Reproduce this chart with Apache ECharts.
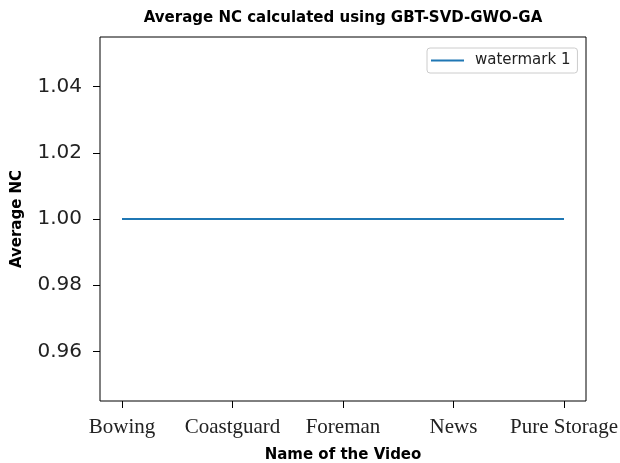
<!DOCTYPE html>
<html>
<head>
<meta charset="utf-8">
<script src="https://cdn.jsdelivr.net/npm/echarts@6/dist/echarts.min.js"></script>
<style>html,body{margin:0;padding:0;background:#fff}#c{width:620px;height:463px}</style>
</head>
<body>
<div id="c"></div>
<script>
const categories = ['Bowing', 'Coastguard', 'Foreman', 'News', 'Pure Storage'];
const watermark1 = [1.0, 1.0, 1.0, 1.0, 1.0];
const yTicks = [0.96, 0.98, 1.00, 1.02, 1.04];
const yMin = 0.945, yMax = 1.055;

const chart = echarts.init(document.getElementById('c'), null, {renderer: 'canvas'});
chart.setOption({
  animation: false,
  backgroundColor: '#fff',
  title: {
    text: 'Average NC calculated using GBT-SVD-GWO-GA',
    left: 343, top: 11, textAlign: 'center', padding: 0,
    textStyle: {fontFamily: 'DejaVu Sans', fontWeight: 'bold', fontSize: 15, color: '#000'}
  },
  legend: {
    data: [{name: 'watermark 1', icon: 'rect'}],
    left: 427, top: 48,
    orient: 'vertical',
    padding: [5, 7, 5, 4],
    itemWidth: 33, itemHeight: 2,
    backgroundColor: 'rgba(255,255,255,0.8)',
    borderColor: '#cccccc', borderWidth: 1, borderRadius: 3,
    textStyle: {fontFamily: 'DejaVu Sans', fontSize: 15, color: '#222', lineHeight: 15, padding: [0, 0, 0, 6]}
  },
  grid: [
    {left: 100, top: 37, width: 486, height: 364, show: true, borderColor: '#000', borderWidth: 1, backgroundColor: 'transparent', containLabel: false, outerBoundsMode: 'none'},
    {left: 122, top: 37, width: 442, height: 364, containLabel: false, outerBoundsMode: 'none'}
  ],
  xAxis: [
    {gridIndex: 0, type: 'value', show: false, min: 0, max: 1},
    {
      gridIndex: 1, type: 'category', data: categories, boundaryGap: false, position: 'bottom',
      axisLine: {show: false},
      axisTick: {show: true, length: 7, inside: false, interval: 0, lineStyle: {color: '#000', width: 1}},
      axisLabel: {interval: 0, margin: 16, fontFamily: 'Liberation Serif', fontSize: 21, color: '#222'},
      splitLine: {show: false},
      name: 'Name of the Video', nameLocation: 'middle', nameGap: 47,
      nameTextStyle: {fontFamily: 'DejaVu Sans', fontWeight: 'bold', fontSize: 15, color: '#000'}
    }
  ],
  yAxis: [
    {
      gridIndex: 0, type: 'value', min: yMin, max: yMax,
      axisLine: {show: false},
      axisTick: {show: true, length: 7, customValues: yTicks, lineStyle: {color: '#000', width: 1}},
      axisLabel: {customValues: yTicks, margin: 18, fontFamily: 'DejaVu Sans', fontSize: 20, color: '#222',
        formatter: v => v.toFixed(2)},
      splitLine: {show: false},
      name: 'Average NC', nameLocation: 'middle', nameGap: 75,
      nameTextStyle: {fontFamily: 'DejaVu Sans', fontWeight: 'bold', fontSize: 15, color: '#000'}
    },
    {gridIndex: 1, type: 'value', min: yMin, max: yMax, show: false}
  ],
  series: [{
    name: 'watermark 1', type: 'line', xAxisIndex: 1, yAxisIndex: 1,
    data: watermark1, symbol: 'none', showSymbol: false,
    lineStyle: {color: '#1f77b4', width: 2}, itemStyle: {color: '#1f77b4'}
  }]
});
</script>
</body>
</html>
